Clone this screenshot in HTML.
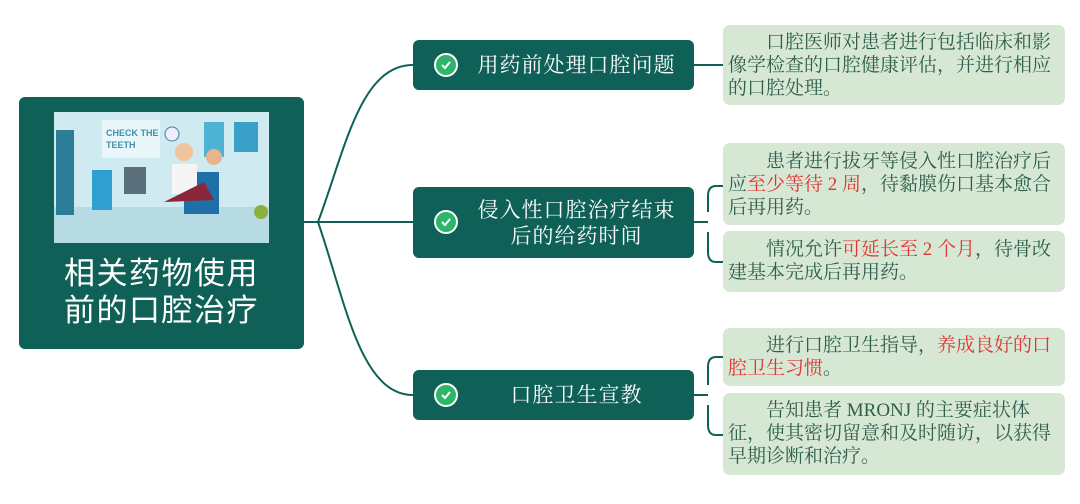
<!DOCTYPE html>
<html><head><meta charset="utf-8"><style>
body{margin:0;width:1080px;height:504px;background:#fff;position:relative;overflow:hidden;font-family:"Liberation Serif","Noto Serif CJK SC",serif;}
.abs{position:absolute}
.center{left:19px;top:97px;width:285px;height:252px;background:#0f6157;border-radius:6px}
.title{left:19px;width:285px;text-align:center;color:#fff;font-family:"Liberation Sans","Noto Sans CJK SC",sans-serif;font-size:31px;letter-spacing:1.5px;line-height:37px;top:255px}
.node{left:413px;width:281px;background:#0f6157;border-radius:6px;color:#fff;font-size:21px;letter-spacing:1px;display:flex;align-items:center}
.node .ic{position:absolute;left:21px;width:20px;height:20px;border-radius:50%;background:#2db56a;border:2px solid #fff}
.node .t{position:absolute;left:60px;right:14px;text-align:center;line-height:26px}
.leaf{left:723px;width:342px;background:#d6e7d3;border-radius:7px;color:#2f5e4e;font-size:19px;line-height:23px;white-space:nowrap;box-sizing:border-box;padding:6px 5px}
.r{color:#e03434}
</style></head><body>
<svg class="abs" style="left:0;top:0" width="1080" height="504">
<g fill="none" stroke="#0f6157" stroke-width="2">
<path d="M303 222 H318"/>
<path d="M318 222 C345 150 360 65 413 65"/>
<path d="M318 222 H413"/>
<path d="M318 222 C345 300 360 395 413 395"/>
<path d="M694 65 H723"/>
<path d="M694 222 H708"/>
<path d="M723 186 H716 Q708 186 708 196 V212 M708 232 V252 Q708 262 716 262 H723"/>
<path d="M694 395 H708"/>
<path d="M723 357 H716 Q708 357 708 367 V385 M708 405 V425 Q708 435 716 435 H723"/>
</g>
</svg>
<div class="abs center"></div>
<svg class="abs" style="left:54px;top:112px" width="215" height="131">
<rect width="215" height="131" fill="#cfeaf0"/>
<rect y="95" width="215" height="36" fill="#b6dbe3"/>
<rect x="2" y="18" width="18" height="85" fill="#2a7f96"/>
<rect x="48" y="8" width="58" height="38" fill="#eaf7fa"/>
<text x="52" y="24" font-family="Liberation Sans" font-size="9" font-weight="bold" fill="#3f8fb0">CHECK THE</text>
<text x="52" y="36" font-family="Liberation Sans" font-size="9" font-weight="bold" fill="#3f8fb0">TEETH</text>
<circle cx="118" cy="22" r="7" fill="#eef" stroke="#3f7f96"/>
<rect x="150" y="10" width="20" height="35" fill="#4eb3d3"/>
<rect x="180" y="10" width="24" height="30" fill="#3aa0c8"/>
<rect x="70" y="55" width="22" height="27" fill="#5a6f7a"/>
<rect x="38" y="58" width="20" height="40" fill="#2f9fd0"/>
<rect x="130" y="60" width="35" height="42" fill="#1f6fa8"/>
<circle cx="130" cy="40" r="9" fill="#f0c49c"/>
<rect x="118" y="52" width="25" height="30" fill="#f5f5f5"/>
<circle cx="160" cy="45" r="8" fill="#e9b48a"/>
<path d="M110 90 L150 70 L160 88 Z" fill="#8a2638"/>
<circle cx="207" cy="100" r="7" fill="#8bb13c"/>
</svg>
<div class="abs title">相关药物使用<br>前的口腔治疗</div>

<div class="abs node" style="top:40px;height:50px"><span class="ic" style="top:13px"></span><svg class="abs" style="left:26px;top:18px" width="14" height="14"><path d="M3 7 L6 10 L11 4" stroke="#fff" stroke-width="2" fill="none"/></svg><div class="t">用药前处理口腔问题</div></div>
<div class="abs node" style="top:187px;height:71px"><span class="ic" style="top:23px"></span><svg class="abs" style="left:26px;top:28px" width="14" height="14"><path d="M3 7 L6 10 L11 4" stroke="#fff" stroke-width="2" fill="none"/></svg><div class="t">侵入性口腔治疗结束<br>后的给药时间</div></div>
<div class="abs node" style="top:370px;height:50px"><span class="ic" style="top:13px"></span><svg class="abs" style="left:26px;top:18px" width="14" height="14"><path d="M3 7 L6 10 L11 4" stroke="#fff" stroke-width="2" fill="none"/></svg><div class="t">口腔卫生宣教</div></div>

<div class="abs leaf" style="top:25px;height:80px">　　口腔医师对患者进行包括临床和影<br>像学检查的口腔健康评估，并进行相应<br>的口腔处理。</div>
<div class="abs leaf" style="top:143px;height:82px;padding-top:7px">　　患者进行拔牙等侵入性口腔治疗后<br>应<span class="r">至少等待 2 周</span>，待黏膜伤口基本愈合<br>后再用药。</div>
<div class="abs leaf" style="top:231px;height:61px;padding-top:7px">　　情况允许<span class="r">可延长至 2 个月</span>，待骨改<br>建基本完成后再用药。</div>
<div class="abs leaf" style="top:328px;height:58px">　　进行口腔卫生指导，<span class="r">养成良好的口<br>腔卫生习惯</span>。</div>
<div class="abs leaf" style="top:393px;height:82px">　　告知患者 MRONJ 的主要症状体<br>征，使其密切留意和及时随访，以获得<br>早期诊断和治疗。</div>
</body></html>
